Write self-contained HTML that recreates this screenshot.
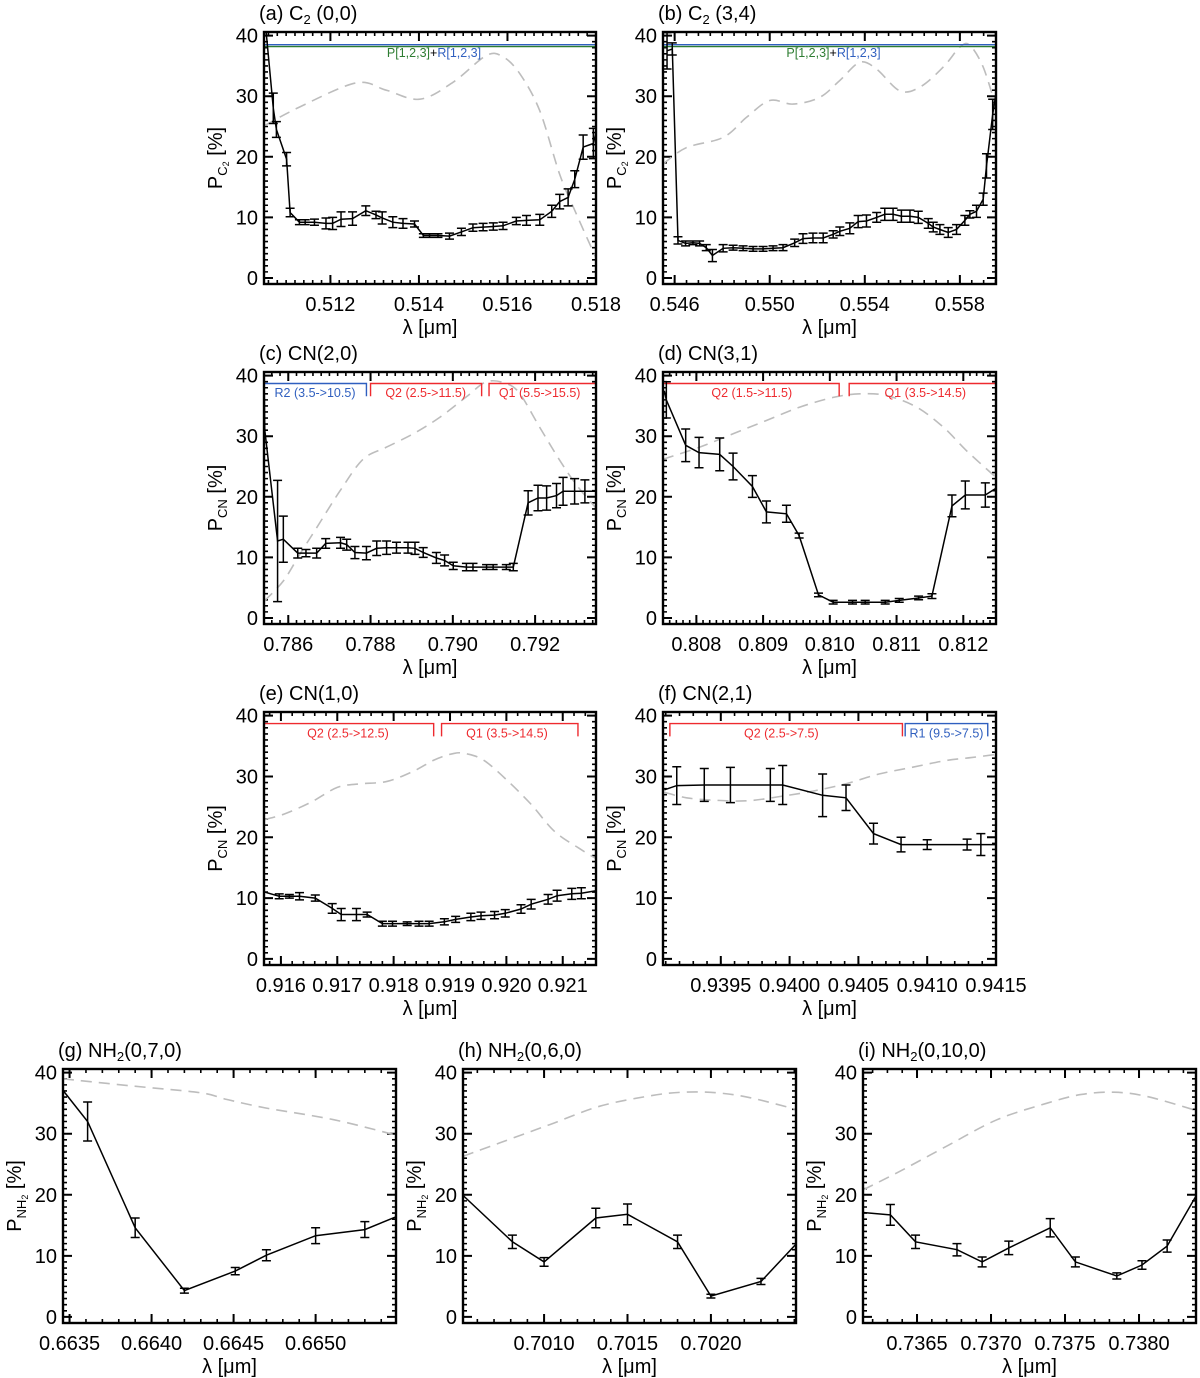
<!DOCTYPE html>
<html><head><meta charset="utf-8"><style>
html,body{margin:0;padding:0;background:#fff;}
svg{display:block;font-family:"Liberation Sans",Arial,sans-serif;}
</style></head><body>
<svg id="fig" width="1200" height="1378" viewBox="0 0 1200 1378" xmlns="http://www.w3.org/2000/svg"></svg>
<script>
// ---------- data ----------
const aLam=[0.51055,0.51071,0.51078,0.51101,0.51109,0.5113,0.51143,0.51164,0.5119,0.51205,0.51224,0.5125,0.5128,0.51303,0.51317,0.51341,0.51364,0.5139,0.5141,0.51424,0.51443,0.51469,0.51496,0.51522,0.51545,0.51568,0.5159,0.5162,0.51643,0.51673,0.517,0.51718,0.51737,0.51752,0.51771,0.51794,0.518];
const aVal=[40.5,28,24.5,19.6,10.8,9.2,9.2,9.2,9.0,9.0,9.7,9.8,11.1,10.4,9.9,9.2,9.0,8.9,7.0,7.0,7.0,6.9,7.6,8.3,8.4,8.5,8.6,9.4,9.5,9.6,11,12.6,13.3,16.3,21.6,22.2,24];
const aErr=[0,2.5,1.3,1.1,.7,.4,.4,.5,.9,1,1.2,1.1,.8,.6,1,.9,.8,.5,.3,.3,.3,.5,.6,.6,.6,.6,.6,.6,.8,.9,1,1.2,1.4,1.4,2,2.5,0];
const aDashLam=[0.5105,0.5113,0.51258,0.51326,0.51402,0.51477,0.51552,0.5159,0.51628,0.51673,0.51718,0.51756,0.518];
const aDashVal=[25.1,28.2,32.2,31,29.5,32.3,36.7,36.5,33.7,27.6,17.1,10.5,3.3];

const bLam=[0.54568,0.5459,0.54614,0.54646,0.54677,0.54705,0.54733,0.54759,0.54804,0.54846,0.54888,0.5493,0.54972,0.55014,0.55056,0.55105,0.5514,0.55182,0.55225,0.55267,0.55295,0.55337,0.55372,0.55407,0.5545,0.55484,0.55519,0.55554,0.5559,0.55625,0.55667,0.55688,0.55716,0.55751,0.55786,0.55821,0.55842,0.5587,0.55898,0.55912,0.55938,0.5595];
const bVal=[37.5,37.8,6.2,5.7,5.8,5.7,5.0,3.7,4.9,5.0,4.9,4.8,4.8,4.9,5.0,5.8,6.5,6.6,6.6,7.2,7.7,8.2,9.3,9.4,10.0,10.5,10.5,10.2,10.2,10.0,9.0,8.4,8.0,7.5,8.0,9.5,10.5,11,13,18.5,27,30];
const bErr=[3,1,.6,.4,.3,.4,.5,1,.6,.4,.4,.4,.4,.4,.5,.6,.8,.8,.8,.6,.7,.9,1,1,.8,1,1,1,1,1,.8,.8,.8,.8,.8,.8,.6,1,1,2,2.5,0];
const bDashLam=[0.54551,0.54649,0.54804,0.54902,0.55,0.55098,0.5521,0.55295,0.55379,0.55449,0.55547,0.55632,0.5573,0.558,0.55842,0.55898,0.55952];
const bDashVal=[18.8,21.5,23.2,26.5,29.3,28.7,29.8,32.6,35.6,34.5,30.9,31.5,34.8,38.1,38.4,34.8,28.2];

const cLam=[0.78541,0.78543,0.78574,0.78588,0.78623,0.78643,0.78669,0.78691,0.78727,0.78742,0.78762,0.7879,0.78815,0.78839,0.78863,0.78891,0.78908,0.78928,0.7896,0.7898,0.79001,0.79033,0.79049,0.79082,0.79098,0.7913,0.79147,0.79183,0.79207,0.79228,0.79252,0.79268,0.79296,0.79321,0.79348];
const cVal=[40.5,31,12.7,13,10.7,10.7,10.7,12.3,12.4,12.1,10.8,10.7,11.5,11.6,11.6,11.6,11.5,10.8,9.9,9.5,8.6,8.4,8.4,8.4,8.4,8.4,8.4,19,19.8,19.8,20.2,20.9,20.9,20.9,20.9];
const cErr=[0,0,10,3.8,.8,.6,.8,.8,.9,.9,1,1.1,1.2,1.1,.9,.9,1,.8,.9,.9,.6,.6,.6,.4,.4,.4,.6,2,2.1,2,2,2.3,2.1,1.9,0];
const cDashLam=[0.78542,0.78588,0.78628,0.78669,0.78726,0.78782,0.78839,0.78904,0.78968,0.79033,0.79082,0.7913,0.79163,0.79211,0.7926,0.793,0.79347];
const cDashVal=[2.8,6.1,10.5,14.9,21,26.2,28.2,30.4,33.1,36.5,39,38.7,37,31.5,26,22,18.2];

const dLam=[0.80752,0.80755,0.80784,0.80804,0.80835,0.80855,0.80884,0.80905,0.80935,0.80954,0.80983,0.81005,0.81034,0.81053,0.81083,0.81104,0.81133,0.81153,0.81183,0.81203,0.81233,0.81249];
const dVal=[37.5,36,28.5,27.3,27,25,21.7,17.5,17.2,13.6,3.8,2.6,2.6,2.6,2.6,2.9,3.3,3.6,18.5,20.3,20.3,21.4];
const dErr=[0,3,2.7,2.5,2.7,2.2,1.8,1.8,1.4,.4,.3,.3,.3,.3,.3,.3,.3,.4,1.8,2.3,2,0];
const dDashLam=[0.8075,0.80805,0.80855,0.80905,0.80955,0.81005,0.81045,0.81085,0.8113,0.8117,0.81205,0.81249];
const dDashVal=[26.2,28.2,30.4,32.6,34.8,36.4,37,36.7,34.8,31.5,27.6,23.2];

const eLam=[0.91571,0.91597,0.91615,0.91633,0.91661,0.91691,0.91707,0.91734,0.91753,0.9178,0.91798,0.91824,0.91845,0.91863,0.9189,0.9191,0.91937,0.91955,0.91979,0.91998,0.92026,0.92044,0.92074,0.9209,0.92116,0.92133,0.92159];
const eVal=[11,10.3,10.3,10.3,10,8.3,7.3,7.3,7.3,5.8,5.8,5.8,5.8,5.8,6.1,6.5,6.9,7.1,7.2,7.5,8.2,9.0,9.8,10.4,10.7,10.8,11.2];
const eErr=[0,.4,.3,.6,.5,.8,1,1,.4,.4,.4,.3,.4,.4,.5,.5,.6,.6,.6,.6,.7,.8,.8,.9,.9,.9,0];
const eDashLam=[0.91571,0.91605,0.91652,0.917,0.91741,0.91789,0.91836,0.91872,0.91907,0.91931,0.91961,0.92002,0.92044,0.92085,0.92127,0.92161];
const eDashVal=[22.9,23.8,25.7,28.2,28.8,29.2,30.9,32.7,33.8,33.7,32.6,29.3,25.4,21,18.3,16.4];

const fLam=[0.93909,0.93918,0.93938,0.93957,0.93986,0.93995,0.94024,0.94041,0.94061,0.94081,0.941,0.94129,0.94139,0.9415];
const fVal=[27.8,28.5,28.6,28.6,28.6,28.6,26.9,26.5,20.6,18.8,18.8,18.8,18.8,18.8];
const fErr=[0,3.1,2.7,2.9,2.7,3.2,3.5,2.1,1.7,1.2,.8,.9,1.8,0];
const fDashLam=[0.93909,0.93925,0.93945,0.93969,0.93993,0.94017,0.94041,0.94065,0.94089,0.94113,0.94132,0.94149];
const fDashVal=[27.4,26.5,26.1,26,26.7,27.6,28.8,30.4,31.5,32.6,33.1,33.6];

const gLam=[0.66346,0.66361,0.6639,0.6642,0.66451,0.6647,0.665,0.6653,0.66549];
const gVal=[37.1,32,14.6,4.3,7.5,10.1,13.3,14.3,16.4];
const gErr=[0,3.2,1.6,.4,.6,.9,1.3,1.3,0];
const gDashLam=[0.66346,0.66389,0.6643,0.66446,0.6647,0.66511,0.6655];
const gDashVal=[39,37.8,36.7,35.6,34.2,32.3,29.7];

const hLam=[0.700514,0.70081,0.7010,0.70131,0.7015,0.7018,0.7020,0.7023,0.70251];
const hVal=[19.9,12.3,9.0,16.2,16.8,12.3,3.4,5.8,11.9];
const hErr=[0,1.1,.7,1.6,1.7,1.1,.3,.5,0];
const hDashLam=[0.700514,0.700734,0.701034,0.701334,0.701634,0.701834,0.702034,0.702234,0.70251];
const hDashVal=[26.3,28.5,31.5,34.5,36.2,36.8,36.7,35.9,34];

const iLam=[0.736135,0.73632,0.73649,0.73677,0.73694,0.73712,0.7374,0.73757,0.73785,0.73802,0.73819,0.738385];
const iVal=[17.1,16.7,12.3,11,9.0,11.3,14.6,9.0,6.7,8.5,11.6,19.8];
const iErr=[0,1.7,1.1,1,.8,1.1,1.5,.8,.5,.7,1,0];
const iDashLam=[0.736135,0.736365,0.736703,0.737041,0.737378,0.737604,0.737829,0.738054,0.738387];
const iDashVal=[20.8,23.6,28,32.3,35,36.4,36.8,36.1,33.8];

const yTicks=[0,10,20,30,40];

const RED='#ee2a2f',BLUE='#2f5fbf',GREEN='#2e7d32';
const NS='http://www.w3.org/2000/svg';
const svg=document.getElementById('fig');
function mk(tag,attrs,parent){const e=document.createElementNS(NS,tag);for(const k in attrs)e.setAttribute(k,attrs[k]);(parent||svg).appendChild(e);return e;}
function smooth(pts){
  let d=`M${pts[0][0].toFixed(1)},${pts[0][1].toFixed(1)}`;
  for(let i=0;i<pts.length-1;i++){
    const p0=pts[i-1]||pts[i],p1=pts[i],p2=pts[i+1],p3=pts[i+2]||p2;
    const c1=[p1[0]+(p2[0]-p0[0])/6,p1[1]+(p2[1]-p0[1])/6];
    const c2=[p2[0]-(p3[0]-p1[0])/6,p2[1]-(p3[1]-p1[1])/6];
    d+=`C${c1[0].toFixed(1)},${c1[1].toFixed(1)} ${c2[0].toFixed(1)},${c2[1].toFixed(1)} ${p2[0].toFixed(1)},${p2[1].toFixed(1)}`;
  }
  return d;
}

const panels=[
 {id:'a',t:['(a) C','2',' (0,0)'],sp:'C2',x0:264,x1:596,y0:32,y1:284,lo:0.5105,hi:0.518,ticks:[0.512,0.514,0.516,0.518],dec:3,nminor:10,lam:aLam,val:aVal,err:aErr,dl:aDashLam,dv:aDashVal,
  labels:[{type:'c2'}]},
 {id:'b',t:['(b) C','2',' (3,4)'],sp:'C2',x0:663,x1:996,y0:32,y1:284,lo:0.54551,hi:0.55952,ticks:[0.546,0.550,0.554,0.558],dec:3,nminor:8,lam:bLam,val:bVal,err:bErr,dl:bDashLam,dv:bDashVal,
  labels:[{type:'c2'}]},
 {id:'c',t:['(c) CN(2,0)'],sp:'CN',x0:264,x1:596,y0:372,y1:624,lo:0.78541,hi:0.79348,ticks:[0.786,0.788,0.790,0.792],dec:3,nminor:10,lam:cLam,val:cVal,err:cErr,dl:cDashLam,dv:cDashVal,
  labels:[{c:BLUE,l:0.78541,r:0.7879,lt:false,rt:true,txt:'R2 (3.5->10.5)',tx:0.78665},
          {c:RED,l:0.788,r:0.7907,lt:true,rt:true,txt:'Q2 (2.5->11.5)',tx:0.78934},
          {c:RED,l:0.79088,r:0.79348,lt:true,rt:false,txt:'Q1 (5.5->15.5)',tx:0.79211}]},
 {id:'d',t:['(d) CN(3,1)'],sp:'CN',x0:663,x1:996,y0:372,y1:624,lo:0.8075,hi:0.81249,ticks:[0.808,0.809,0.810,0.811,0.812],dec:3,nminor:10,lam:dLam,val:dVal,err:dErr,dl:dDashLam,dv:dDashVal,
  labels:[{c:RED,l:0.8075,r:0.81014,lt:false,rt:true,txt:'Q2 (1.5->11.5)',tx:0.80883},
          {c:RED,l:0.81029,r:0.81249,lt:true,rt:false,txt:'Q1 (3.5->14.5)',tx:0.81143}]},
 {id:'e',t:['(e) CN(1,0)'],sp:'CN',x0:264,x1:596,y0:712,y1:965,lo:0.9157,hi:0.92159,ticks:[0.916,0.917,0.918,0.919,0.920,0.921],dec:3,nminor:5,lam:eLam,val:eVal,err:eErr,dl:eDashLam,dv:eDashVal,
  labels:[{c:RED,l:0.9157,r:0.91871,lt:false,rt:true,txt:'Q2 (2.5->12.5)',tx:0.91719},
          {c:RED,l:0.91885,r:0.92127,lt:true,rt:true,txt:'Q1 (3.5->14.5)',tx:0.92001}]},
 {id:'f',t:['(f) CN(2,1)'],sp:'CN',x0:663,x1:996,y0:712,y1:965,lo:0.93908,hi:0.9415,ticks:[0.9395,0.9400,0.9405,0.9410,0.9415],dec:4,nminor:5,lam:fLam,val:fVal,err:fErr,dl:fDashLam,dv:fDashVal,
  labels:[{c:RED,l:0.93913,r:0.94082,lt:true,rt:true,txt:'Q2 (2.5->7.5)',tx:0.93994},
          {c:BLUE,l:0.94084,r:0.94144,lt:true,rt:true,txt:'R1 (9.5->7.5)',tx:0.94114}]},
 {id:'g',t:['(g) NH','2','(0,7,0)'],sp:'NH2',x0:63,x1:396,y0:1069,y1:1323,lo:0.66346,hi:0.66549,ticks:[0.6635,0.6640,0.6645,0.6650],dec:4,nminor:5,lam:gLam,val:gVal,err:gErr,dl:gDashLam,dv:gDashVal,labels:[]},
 {id:'h',t:['(h) NH','2','(0,6,0)'],sp:'NH2',x0:463,x1:796,y0:1069,y1:1323,lo:0.700514,hi:0.70251,ticks:[0.7010,0.7015,0.7020],dec:4,nminor:5,lam:hLam,val:hVal,err:hErr,dl:hDashLam,dv:hDashVal,labels:[]},
 {id:'i',t:['(i) NH','2','(0,10,0)'],sp:'NH2',x0:863,x1:1196,y0:1069,y1:1323,lo:0.736135,hi:0.738385,ticks:[0.7365,0.7370,0.7375,0.7380],dec:4,nminor:5,lam:iLam,val:iVal,err:iErr,dl:iDashLam,dv:iDashVal,labels:[]}
];

const YMIN=-1,YMAX=40.6;
panels.forEach(p=>{
  const g=mk('g',{});
  
  
  const X=v=>p.x0+(v-p.lo)/(p.hi-p.lo)*(p.x1-p.x0);
  const Y=v=>p.y1-(v-YMIN)/(YMAX-YMIN)*(p.y1-p.y0);
  const cp=mk('clipPath',{id:'clip'+p.id},g);
  mk('rect',{x:p.x0,y:p.y0,width:p.x1-p.x0,height:p.y1-p.y0},cp);
  // title
  const tt=mk('text',{x:p.x0-5,y:p.y0-12,'font-size':20,fill:'#000'},g);
  
  
  p.t.forEach((s,k)=>{const ts=mk('tspan',k===1?{'font-size':13,dy:4}:(k===2?{dy:-4}:{}),tt);ts.textContent=s;});
  // minor ticks
  let mt='';
  for(let v=0;v<=40;v+=1){if(v%10===0)continue;const y=Y(v);mt+=`M${p.x0},${y}h4M${p.x1},${y}h-4`;}
  const step=p.ticks[1]-p.ticks[0];
  const ms=step/p.nminor;
  for(let v=p.ticks[0]-step;v<=p.hi+1e-9;v+=ms){if(v<p.lo-1e-9)continue;const x=X(v);mt+=`M${x},${p.y1}v-4M${x},${p.y0}v4`;}
  const minor=mk('path',{d:mt,stroke:'#000','stroke-width':1.6,fill:'none'},g);
  
  
  // major ticks
  let Mt='';
  yTicks.forEach(v=>{const y=Y(v);Mt+=`M${p.x0},${y}h9M${p.x1},${y}h-9`;});
  p.ticks.forEach(v=>{const x=X(v);Mt+=`M${x},${p.y1}v-9M${x},${p.y0}v9`;});
  const major=mk('path',{d:Mt,stroke:'#000','stroke-width':2,fill:'none'},g);
  
  
  // tick labels
  yTicks.forEach(v=>{const t=mk('text',{x:p.x0-6,y:Y(v)+7,'font-size':20,'text-anchor':'end'},g);t.textContent=String(v);
    
    });
  p.ticks.forEach(v=>{const t=mk('text',{x:X(v),y:p.y1+27,'font-size':20,'text-anchor':'middle'},g);t.textContent=v.toFixed(p.dec);
    
    });
  // axis titles
  const xt=mk('text',{x:(p.x0+p.x1)/2,y:p.y1+50,'font-size':20,'text-anchor':'middle'},g);
  xt.textContent='λ [μm]';
  
  
  const cx=p.x0-42,cy=(p.y0+p.y1)/2;
  const yt=mk('text',{x:cx,y:cy,'font-size':20,'text-anchor':'middle',transform:`rotate(-90 ${cx} ${cy})`},g);
  
  
  const t1=mk('tspan',{},yt);t1.textContent='P';
  if(p.sp==='C2'){const s=mk('tspan',{'font-size':13,dy:5},yt);s.textContent='C';const s2=mk('tspan',{'font-size':9,dy:2},yt);s2.textContent='2';const s3=mk('tspan',{dy:-7},yt);s3.textContent=' [%]';}
  else if(p.sp==='CN'){const s=mk('tspan',{'font-size':13,dy:5},yt);s.textContent='CN';const s3=mk('tspan',{dy:-5},yt);s3.textContent=' [%]';}
  else {const s=mk('tspan',{'font-size':13,dy:5},yt);s.textContent='NH';const s2=mk('tspan',{'font-size':9,dy:2},yt);s2.textContent='2';const s3=mk('tspan',{dy:-7},yt);s3.textContent=' [%]';}
  // dashed model curve
  const dd=smooth(p.dl.map((l,k)=>[X(l),Y(p.dv[k])]));
  const dash=mk('path',{d:dd,stroke:'#bdbdbd','stroke-width':1.6,fill:'none','stroke-dasharray':'11 7','clip-path':`url(#clip${p.id})`},g);
  
  
  // band labels
  p.labels.forEach(L=>{
    if(L.type==='c2'){
      const bl=mk('line',{x1:p.x0,x2:p.x1,y1:Y(38.5),y2:Y(38.5),stroke:BLUE,'stroke-width':1.4},g);
      
      
      const gl=mk('line',{x1:p.x0,x2:p.x1,y1:Y(38.2),y2:Y(38.2),stroke:GREEN,'stroke-width':1.4},g);
      
      
      const cxm=(p.x0+p.x1)/2+4;
      const tx=mk('text',{x:cxm,y:p.y0+25,'font-size':12.5,'text-anchor':'middle'},g);
      
      
      const a1=mk('tspan',{fill:GREEN},tx);a1.textContent='P[1,2,3]';
      const a2=mk('tspan',{fill:'#000'},tx);a2.textContent='+';
      const a3=mk('tspan',{fill:BLUE},tx);a3.textContent='R[1,2,3]';
      return;
    }
    const yl=Y(38.7),yb=Y(36.6);
    let d=`M${X(L.l)},${L.lt?yb:yl}`+(L.lt?`V${yl}`:'')+`H${X(L.r)}`+(L.rt?`V${yb}`:'');
    const br=mk('path',{d:d,stroke:L.c,'stroke-width':1.4,fill:'none'},g);
    
    
    const t=mk('text',{x:X(L.tx),y:Y(36.6)+1,'font-size':12.5,'text-anchor':'middle',fill:L.c},g);
    t.textContent=L.txt;
    
    
  });
  // data line
  const ld=p.lam.map((l,k)=>(k?'L':'M')+X(l).toFixed(1)+','+Y(p.val[k]).toFixed(1)).join('');
  const line=mk('path',{d:ld,stroke:'#000','stroke-width':1.5,fill:'none','clip-path':`url(#clip${p.id})`},g);
  
  
  // error bars
  let ed='';
  p.lam.forEach((l,k)=>{const e=p.err[k];if(!e)return;const x=X(l),ya=Y(p.val[k]+e),yb=Y(p.val[k]-e);
    ed+=`M${x},${ya}V${yb}M${x-4.5},${ya}h9M${x-4.5},${yb}h9`;});
  const eb=mk('path',{d:ed,stroke:'#000','stroke-width':1.5,fill:'none','clip-path':`url(#clip${p.id})`},g);
  
  
  // frame
  const fr=mk('rect',{x:p.x0,y:p.y0,width:p.x1-p.x0,height:p.y1-p.y0,fill:'none',stroke:'#000','stroke-width':2.4},g);
  
  
});
</script>
</body></html>
